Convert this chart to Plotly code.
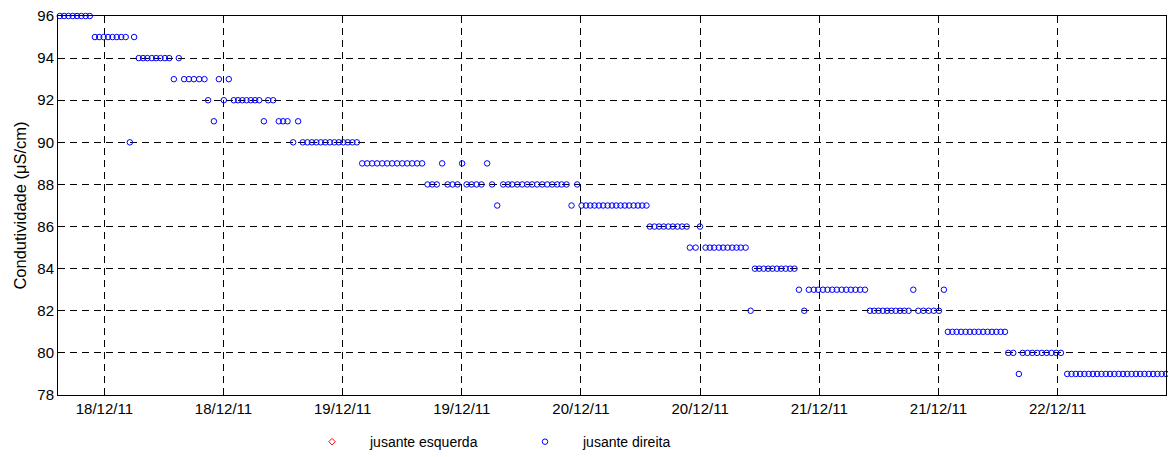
import pandas as pd
import plotly.graph_objects as go

# Conductivity logger, downstream right bank ("jusante direita")
start_time = pd.Timestamp("2011-12-17 19:31")

# minutes elapsed since start_time for each reading
elapsed_min = [
    0, 26, 52, 78, 104, 130, 156, 181,
    212, 238, 265, 291, 318, 344, 371, 398,
    423, 449,
    477, 503, 529, 556, 582, 608, 635, 661,
    689, 719,
    751, 780, 810, 842, 874,
    896, 931, 961, 991, 1021,
    1051, 1077, 1103, 1128, 1154, 1180, 1205,
    1233, 1259, 1289, 1323, 1349, 1376, 1410, 1440,
    1468, 1496, 1523, 1550, 1577, 1604, 1632, 1659, 1686, 1713, 1740, 1768, 1795,
    1827, 1857, 1887, 1917, 1948, 1978, 2008, 2038, 2069, 2099, 2129, 2159, 2189,
    2222, 2250, 2278, 2310, 2343, 2373, 2403, 2431,
    2458, 2488, 2518, 2548, 2582, 2612, 2643,
    2679, 2709, 2733, 2764, 2794, 2824, 2854, 2884, 2915, 2945, 2975, 3005, 3032, 3062,
    3092, 3126,
    3153, 3179, 3205, 3231, 3257, 3283, 3310, 3336, 3362, 3388, 3414, 3440, 3467, 3493, 3519, 3545,
    3565, 3593, 3621, 3649, 3677, 3704, 3732, 3760, 3788,
    3807, 3842, 3868,
    3902, 3928, 3954, 3982, 4008, 4035, 4063, 4089, 4115, 4144,
    4174,
    4200, 4226, 4253, 4280, 4306, 4333, 4359, 4386, 4413, 4439,
    4466, 4498,
    4526, 4556, 4582, 4611, 4639, 4667, 4695, 4724, 4752, 4780, 4808, 4836, 4865,
    4895, 4921, 4947, 4973, 4999, 5025, 5051, 5077, 5103, 5129,
    5157,
    5187, 5218, 5250, 5281, 5312,
    5342,
    5366, 5393, 5419, 5446, 5473, 5499, 5526, 5552, 5579, 5606, 5632, 5659, 5685, 5711,
    5731, 5761, 5795,
    5818, 5847, 5876, 5905, 5934, 5963, 5992, 6021, 6049,
    6087, 6113, 6139, 6165, 6191, 6217, 6242, 6268, 6294, 6320, 6346, 6372,
    6398, 6424, 6450, 6476, 6502, 6528, 6554, 6580, 6606, 6632, 6658, 6684,
]

# conductivity readings (uS/cm)
condutividade = [
    96, 96, 96, 96, 96, 96, 96, 96,
    95, 95, 95, 95, 95, 95, 95, 95,
    90, 95,
    94, 94, 94, 94, 94, 94, 94, 94,
    93, 94,
    93, 93, 93, 93, 93,
    92, 91, 93, 92, 93,
    92, 92, 92, 92, 92, 92, 92,
    91, 92, 92, 91, 91, 91, 90, 91,
    90, 90, 90, 90, 90, 90, 90, 90, 90, 90, 90, 90, 90,
    89, 89, 89, 89, 89, 89, 89, 89, 89, 89, 89, 89, 89,
    88, 88, 88, 89, 88, 88, 88, 89,
    88, 88, 88, 88, 89, 88, 87,
    88, 88, 88, 88, 88, 88, 88, 88, 88, 88, 88, 88, 88, 88,
    87, 88,
    87, 87, 87, 87, 87, 87, 87, 87, 87, 87, 87, 87, 87, 87, 87, 87,
    86, 86, 86, 86, 86, 86, 86, 86, 86,
    85, 85, 86,
    85, 85, 85, 85, 85, 85, 85, 85, 85, 85,
    82,
    84, 84, 84, 84, 84, 84, 84, 84, 84, 84,
    83, 82,
    83, 83, 83, 83, 83, 83, 83, 83, 83, 83, 83, 83, 83,
    82, 82, 82, 82, 82, 82, 82, 82, 82, 82,
    83,
    82, 82, 82, 82, 82,
    83,
    81, 81, 81, 81, 81, 81, 81, 81, 81, 81, 81, 81, 81, 81,
    80, 80, 79,
    80, 80, 80, 80, 80, 80, 80, 80, 80,
    79, 79, 79, 79, 79, 79, 79, 79, 79, 79, 79, 79,
    79, 79, 79, 79, 79, 79, 79, 79, 79, 79, 79, 79,
]

# downstream left bank: no readings logged in this window
esquerda_time = [None]
esquerda_val = [None]

tick_dates = pd.date_range("2011-12-18 00:00", "2011-12-22 00:00", freq="12h")
y_ticks = list(range(78, 97, 2))

times = start_time + pd.to_timedelta(elapsed_min, unit="m")

font_family = "Arial, Liberation Sans, sans-serif"

fig = go.Figure()
fig.add_trace(go.Scatter(
    x=esquerda_time, y=esquerda_val, mode="markers", name="jusante esquerda",
    marker=dict(symbol="diamond-open", size=5, color="#ff0000", line=dict(width=1, color="#ff0000")),
    cliponaxis=False,
))
fig.add_trace(go.Scatter(
    x=times, y=condutividade, mode="markers", name="jusante direita",
    marker=dict(symbol="circle-open", size=5.5, color="#0000ff", line=dict(width=1, color="#0000ff")),
    cliponaxis=False,
))

axis_common = dict(
    showline=True, linecolor="black", linewidth=1, mirror="ticks",
    ticks="inside", ticklen=5, tickcolor="black", tickwidth=1,
    showgrid=True, gridcolor="black", gridwidth=1, griddash="7px,5px",
    zeroline=False,
    tickfont=dict(family=font_family, size=15, color="black"),
)

fig.update_xaxes(
    type="date", range=[times.min() - pd.Timedelta(minutes=11), times.max()],
    tickvals=list(tick_dates), tickformat="%d/%m/%y",
    **axis_common,
)
fig.update_yaxes(
    range=[78, 96], tickvals=y_ticks,
    title=dict(text="Condutividade (μS/cm)", font=dict(family=font_family, size=16.5, color="black"), standoff=6),
    **axis_common,
)

fig.update_layout(
    width=1168, height=457,
    margin=dict(l=58, r=2, t=16, b=62, autoexpand=False),
    paper_bgcolor="white", plot_bgcolor="white",
    font=dict(family=font_family, color="black"),
    showlegend=True,
    legend=dict(
        orientation="h", x=0.213, xanchor="left", y=-0.082, yanchor="top",
        font=dict(family=font_family, size=14, color="black"),
        itemwidth=66, entrywidth=132, entrywidthmode="pixels",
        bgcolor="rgba(0,0,0,0)",
    ),
)

fig.write_html("out.html")
